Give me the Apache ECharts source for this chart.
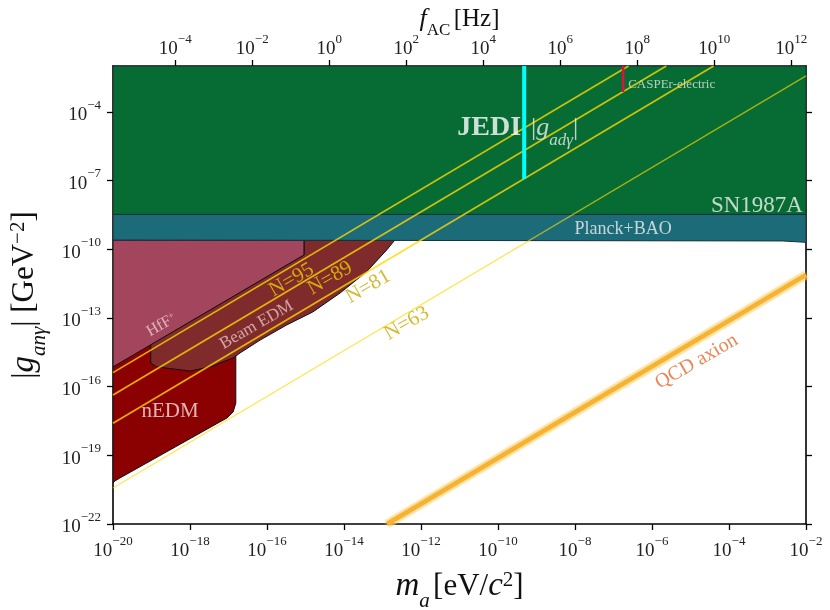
<!DOCTYPE html>
<html><head><meta charset="utf-8">
<script src="https://cdn.jsdelivr.net/npm/echarts@6/dist/echarts.min.js"></script>
<style>html,body{margin:0;padding:0;background:#fff}#c{width:830px;height:610px}</style>
</head><body><div id="c"></div>
<script>
// All values are log10: x = log10(m_a / eV), y = log10(|g| / GeV^-2)
const LOG_HZ_PER_EV = 14.38345;               // log10(c^2/h in Hz/eV)
const massTicks = [-20,-18,-16,-14,-12,-10,-8,-6,-4,-2];
const couplingTicks = [-22,-19,-16,-13,-10,-7,-4];
const freqTicks = [-4,-2,0,2,4,6,8,10,12];

// Excluded regions (boundaries)
const sn1987a   = [[-20,-2],[-2,-2],[-2,-8.48],[-20,-8.48]];
const planckBAO = [[-20,-8.48],[-2,-8.48],[-2,-9.70],[-2.6,-9.64],[-20,-9.6]];
const hffPlus   = [[-20,-9.6],[-15.04,-9.6],[-15.04,-10.25],[-20,-15.14]];
const beamEDM   = [[-19.02,-14.16],[-15.04,-10.25],[-15.04,-9.6],[-12.68,-9.6],[-12.89,-10.03],
                   [-13.41,-10.98],[-14.10,-11.91],[-14.81,-12.74],[-15.49,-13.31],[-16.18,-13.97],
                   [-16.70,-14.53],[-16.88,-14.75],[-17.48,-15.14],[-18.0,-15.32],[-18.86,-15.14],[-19.02,-14.97]];
const nEDM      = [[-20,-15.14],[-16.81,-11.95],[-16.81,-16.72],[-16.88,-17.11],[-17.04,-17.37],
                   [-19.82,-19.99],[-19.95,-20.12],[-20,-20.21]];

// Sensitivity lines N = 95, 89, 81, 63 (endpoints on the frame)
const lineN95 = [[-20,-15.39],[-6.61,-2]];
const lineN89 = [[-20,-16.37],[-5.63,-2]];
const lineN81 = [[-20,-17.60],[-4.40,-2]];
const lineN63 = [[-20,-20.43],[-2,-2.43]];
const qcdBand = [[-12.88,-22],[-2,-11.12]];
const jediBar = [[-9.32,-2],[-9.32,-6.93]];
const casperBar = [[-6.75,-2],[-6.75,-3.14]];

const SERIF = '"Liberation Serif","DejaVu Serif",serif';

function poly(pts, fill, stroke, lw) {
  return {
    type:'custom', coordinateSystem:'cartesian2d', clip:true, silent:true, animation:false,
    data: pts,
    renderItem: (params, api) => {
      if (params.dataIndex !== 0) return null;
      return {type:'polygon', shape:{points: pts.map(p => api.coord(p))},
              style:{fill: fill, stroke: stroke, lineWidth: lw}};
    }
  };
}
function seg(pts, color, width, opacity, extra) {
  return Object.assign({
    type:'line', data: pts, showSymbol:false, symbol:'none', silent:true, animation:false, clip:true,
    lineStyle:{color: color, width: width, opacity: opacity}
  }, extra || {});
}

const tickRich = {
  b:{fontSize:19, fontFamily:SERIF, color:'#222', lineHeight:26, verticalAlign:'bottom'},
  s:{fontSize:13, fontFamily:SERIF, color:'#222', lineHeight:13, verticalAlign:'top'}
};
const pow10 = v => '{b|10}{s|' + (v < 0 ? '\u2212' : '') + Math.abs(Math.round(v)) + '}';

const titleRich = {
  n:{fontSize:31, fontFamily:SERIF, color:'#111'},
  i:{fontSize:33, fontFamily:SERIF, fontStyle:'italic', color:'#111'},
  sub:{fontSize:21, fontFamily:SERIF, fontStyle:'italic', color:'#111', verticalAlign:'bottom', lineHeight:26, padding:[0,0,-9,0]},
  sup:{fontSize:21, fontFamily:SERIF, color:'#111', verticalAlign:'top', lineHeight:20}
};

const axisCommon = {
  type:'value', splitLine:{show:false}, nameMoveOverlap:false,
  axisLine:{show:true, onZero:false, lineStyle:{color:'#000', width:1.6}},
  axisTick:{show:true, length:6, lineStyle:{color:'#000', width:1.3}},
  minorTick:{show:false}
};

// Text annotations placed in data coordinates
const labels = [
  {value:[-9.40,-4.71], text:'{b|JEDI}', align:'right', rich:{b:{fontSize:28, fontWeight:'bold', fontFamily:SERIF, color:'#ffffff'}}},
  {value:[-9.14,-4.71], text:'{n||}{i|g}{sub|ad\u03b3}{n||}', align:'left',
     rich:{n:{fontSize:26, fontFamily:SERIF, color:'#eeeeee'}, i:{fontSize:26, fontStyle:'italic', fontFamily:SERIF, color:'#eeeeee'},
           sub:{fontSize:17, fontStyle:'italic', fontFamily:SERIF, color:'#eeeeee', verticalAlign:'bottom', lineHeight:22, padding:[0,0,-8,0]}}},
  {value:[-6.62,-2.83], text:'CASPEr-electric', align:'left', color:'#dde6dd', fontSize:13},
  {value:[-2.08,-8.11], text:'SN1987A', align:'right', color:'#f4f4f4', fontSize:23},
  {value:[-6.75,-9.12], text:'Planck+BAO', align:'center', color:'#f0f0f0', fontSize:18},
  {value:[-18.74,-13.31], text:'HfF{s|+}', align:'center', color:'#ecd0d6', fontSize:16, rotate:30,
     rich:{s:{fontSize:10, fontFamily:SERIF, color:'#ecd0d6', verticalAlign:'top', lineHeight:10}}},
  {value:[-16.27,-13.31], text:'Beam EDM', align:'center', color:'#e6c4c4', fontSize:17, rotate:30},
  {value:[-18.52,-17.10], text:'nEDM', align:'center', color:'#f2e2e2', fontSize:21},
  {value:[-15.36,-11.34], text:'N=95', align:'center', color:'#ecca00', fontSize:21, rotate:30},
  {value:[-14.36,-11.27], text:'N=89', align:'center', color:'#ecca00', fontSize:21, rotate:30},
  {value:[-13.37,-11.64], text:'N=81', align:'center', color:'#c9a800', fontSize:21, rotate:30},
  {value:[-12.37,-13.24], text:'N=63', align:'center', color:'#c9a800', fontSize:21, rotate:30},
  {value:[-4.84,-14.91], text:'QCD axion', align:'center', color:'#e2682a', fontSize:20, rotate:30}
];

const chart = echarts.init(document.getElementById('c'), null, {renderer:'canvas'});
chart.setOption({
  animation:false,
  backgroundColor:'#fff',
  grid:{left:113, right:24, top:66, bottom:86, containLabel:false, outerBoundsMode:'none'},
  xAxis:[
    Object.assign({}, axisCommon, {
      position:'bottom', min:-20, max:-2,
      axisTick:Object.assign({}, axisCommon.axisTick, {customValues:massTicks}),
      axisLabel:{customValues:massTicks, formatter:pow10, rich:tickRich, margin:11},
      name:'{i|m}{sub|a} {n|[eV/}{i|c}{sup|2}{n|]}', nameLocation:'middle', nameGap:46,
      nameTextStyle:{rich:titleRich}
    }),
    Object.assign({}, axisCommon, {
      position:'top', min:-20 + LOG_HZ_PER_EV, max:-2 + LOG_HZ_PER_EV,
      axisTick:Object.assign({}, axisCommon.axisTick, {customValues:freqTicks}),
      axisLabel:{customValues:freqTicks, formatter:pow10, rich:tickRich, margin:7},
      name:'{i|f}{subr|AC} {n|[Hz]}', nameLocation:'middle', nameGap:34,
      nameTextStyle:{rich:{
        n:{fontSize:25, fontFamily:SERIF, color:'#111'},
        i:{fontSize:26, fontFamily:SERIF, fontStyle:'italic', color:'#111'},
        subr:{fontSize:17, fontFamily:SERIF, color:'#111', verticalAlign:'bottom', lineHeight:20, padding:[0,0,-7,0]}
      }}
    })
  ],
  yAxis:[
    Object.assign({}, axisCommon, {
      position:'left', min:-22, max:-2,
      axisTick:Object.assign({}, axisCommon.axisTick, {customValues:couplingTicks}),
      axisLabel:{customValues:couplingTicks, formatter:pow10, rich:tickRich, margin:12},
      name:'{n||}{i|g}{sub|an\u03b3}{n|| [GeV}{sup|\u22122}{n|]}', nameLocation:'middle', nameGap:72, nameRotate:90,
      nameTextStyle:{rich:titleRich}
    }),
    Object.assign({}, axisCommon, {
      position:'right', min:-22, max:-2,
      axisTick:Object.assign({}, axisCommon.axisTick, {customValues:couplingTicks}),
      axisLabel:{show:false}
    })
  ],
  series:[
    poly(nEDM, '#8b0000', '#111', 1),
    poly(beamEDM, '#7f2b2b', '#111', 1),
    poly(hffPlus, '#a3455c', '#111', 1),
    poly(planckBAO, '#1b6b78', '#17303a', 1),
    poly(sn1987a, '#076c33', '#17303a', 1),
    seg(qcdBand, '#fbd27a', 9, 0.5),
    seg(qcdBand, '#f6b233', 4.5, 1, {lineStyle:{color:'#f6b233', width:4.5, shadowBlur:4, shadowColor:'#ffd36a'}}),
    seg(lineN95, '#ffd700', 1.7, 0.8),
    seg(lineN89, '#ffd700', 1.7, 0.8),
    seg(lineN81, '#ffd700', 1.7, 0.8),
    seg(lineN63, '#ffd700', 1.3, 0.65),
    seg(jediBar, '#00ffff', 4, 1),
    seg(casperBar, '#dc143c', 2.5, 1),
    {
      type:'scatter', symbolSize:1, silent:true, animation:false, z:10,
      itemStyle:{color:'rgba(0,0,0,0)'},
      data: labels.map(l => ({
        value:l.value,
        label:{show:true, position:'inside', formatter:l.text, align:l.align, verticalAlign:'middle',
               rotate:l.rotate || 0, color:l.color || '#fff', fontSize:l.fontSize || 16, fontFamily:SERIF,
               textBorderWidth:0, rich:l.rich || {}}
      }))
    }
  ]
});
</script></body></html>
